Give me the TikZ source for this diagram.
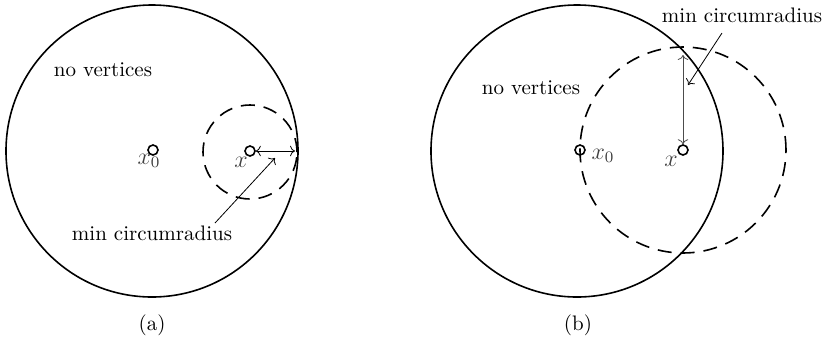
\documentclass[tikz,border=0pt]{standalone}
\usetikzlibrary{arrows.meta}
\begin{document}
\begin{tikzpicture}[x=0.5pt,y=-0.5pt,
  bigcirc/.style={draw,line width=0.8pt},
  dashcirc/.style={draw,line width=0.8pt,dash pattern=on 7pt off 4.5pt},
  pt/.style={circle,draw,line width=0.8pt,minimum size=5pt,inner sep=0pt},
  lbl/.style={font=\large,text=black!75,inner sep=0pt},
  txt/.style={inner sep=0pt,font=\fontsize{10.5}{12}\selectfont},
  arr/.style={line width=0.4pt,-{To[length=2.5pt]}},
  darr/.style={line width=0.4pt,{To[length=2.5pt]}-{To[length=2.5pt]}}]
\useasboundingbox (0,0) rectangle (827,344);
% (a)
\node[bigcirc,circle,minimum size=146pt,inner sep=0pt] (A) at (152,151) {};
\node[dashcirc,circle,minimum size=47pt,inner sep=0pt] (DA) at (250,152) {};
\node[pt] (x0a) at (153,150) {};
\node[pt] (xa) at (250,151) {};
\node[lbl] (lx0a) at (149,161) {$x_0$};
\node[lbl] (lxa) at (241,162) {$x$};
\coordinate (ra) at (295,151);
\draw[darr] (xa) -- (ra);
\node[txt] (ta) at (152,233) {min circumradius};
\draw[arr] (215,223) -- (275,158);
\node[txt] (noa) at (103,70) {no vertices};
\node[txt] (capa) at (152,325) {(a)};
% (b)
\node[bigcirc,circle,minimum size=146pt,inner sep=0pt] (B) at (577,151) {};
\node[dashcirc,circle,minimum size=103pt,inner sep=0pt] (DB) at (683,150) {};
\node[pt] (x0b) at (580,150) {};
\node[pt] (xb) at (683,150) {};
\node[lbl] (lx0b) at (603,156) {$x_0$};
\node[lbl] (lxb) at (671,161) {$x$};
\coordinate (rb) at (683,55);
\draw[darr,draw=black!70] (xb) -- (rb);
\node[txt] (tb) at (742,15) {min circumradius};
\draw[arr] (722,33) -- (688,85);
\node[txt] (nob) at (531,88) {no vertices};
\node[txt] (capb) at (578,325) {(b)};
\end{tikzpicture}
\end{document}
